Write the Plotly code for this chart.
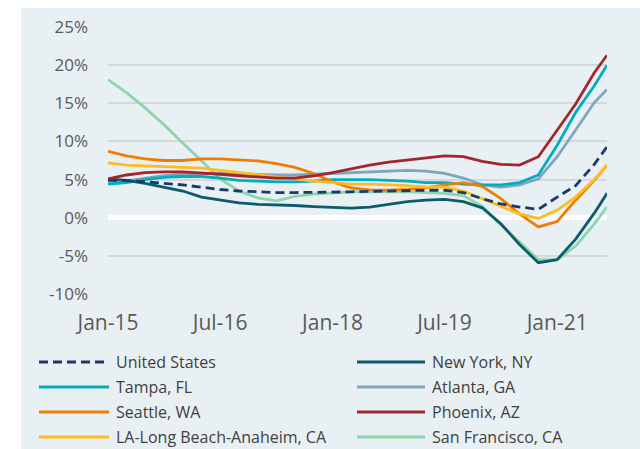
import plotly.graph_objects as go

# ---------------- data ----------------
dates = ["2015-01-01", "2015-04-01", "2015-07-01", "2015-10-01",
         "2016-01-01", "2016-04-01", "2016-07-01", "2016-10-01",
         "2017-01-01", "2017-04-01", "2017-07-01", "2017-10-01",
         "2018-01-01", "2018-04-01", "2018-07-01", "2018-10-01",
         "2019-01-01", "2019-04-01", "2019-07-01", "2019-10-01",
         "2020-01-01", "2020-04-01", "2020-07-01", "2020-10-01",
         "2021-01-01", "2021-04-01", "2021-07-01", "2021-09-01"]

united_states = [4.9, 4.9, 4.7, 4.5, 4.3, 4.0, 3.7, 3.5, 3.35, 3.3, 3.3, 3.3, 3.35, 3.4,
                 3.45, 3.55, 3.6, 3.6, 3.6, 3.3, 2.5, 1.8, 1.4, 1.1, 2.7, 4.2, 7.0, 9.3]
new_york = [5.1, 4.9, 4.5, 4.0, 3.5, 2.7, 2.3, 1.95, 1.75, 1.7, 1.6, 1.45, 1.35, 1.25,
            1.4, 1.8, 2.1, 2.3, 2.4, 2.1, 1.3, -0.8, -3.5, -5.9, -5.5, -2.8, 0.6, 3.2]
tampa = [4.4, 4.6, 5.0, 5.3, 5.4, 5.4, 5.2, 4.9, 4.8, 4.7, 4.7, 4.8, 5.0, 5.0,
         5.0, 4.9, 4.8, 4.6, 4.6, 4.4, 4.3, 4.3, 4.6, 5.6, 9.5, 13.8, 17.3, 20.0]
atlanta = [4.5, 4.8, 5.2, 5.5, 5.7, 5.8, 5.8, 5.7, 5.6, 5.6, 5.6, 5.7, 5.8, 5.9,
           6.0, 6.1, 6.2, 6.1, 5.8, 5.2, 4.3, 4.0, 4.3, 5.1, 8.0, 11.5, 15.1, 16.8]
seattle = [8.7, 8.1, 7.7, 7.5, 7.5, 7.7, 7.7, 7.6, 7.45, 7.1, 6.6, 5.8, 4.7, 3.9,
           3.65, 3.6, 3.7, 3.9, 4.3, 4.6, 4.1, 2.5, 0.5, -1.2, -0.5, 2.3, 4.9, 6.9]
phoenix = [5.1, 5.6, 5.9, 6.0, 6.0, 5.9, 5.7, 5.5, 5.3, 5.2, 5.2, 5.5, 5.9, 6.4,
           6.9, 7.3, 7.6, 7.9, 8.1, 8.0, 7.4, 7.0, 6.9, 8.0, 11.5, 14.9, 19.0, 21.3]
la_long_beach = [7.2, 6.9, 6.8, 6.7, 6.6, 6.5, 6.2, 5.9, 5.6, 5.4, 5.1, 4.8, 4.6, 4.4,
                 4.4, 4.3, 4.2, 4.0, 4.0, 3.5, 2.5, 1.5, 0.5, -0.1, 1.0, 2.7, 5.0, 6.9]
san_francisco = [18.1, 16.4, 14.4, 12.2, 9.8, 7.4, 5.1, 3.5, 2.6, 2.2, 2.8, 3.1, 3.3, 3.4,
                 3.4, 3.4, 3.4, 3.3, 3.2, 2.9, 1.5, -0.9, -3.2, -5.5, -5.5, -3.7, -0.8, 1.4]

series_names = ["United States", "New York, NY", "Tampa, FL", "Atlanta, GA",
                "Seattle, WA", "Phoenix, AZ", "LA-Long Beach-Anaheim, CA", "San Francisco, CA"]
series_values = [united_states, new_york, tampa, atlanta,
                 seattle, phoenix, la_long_beach, san_francisco]

x_tick_dates = ["2015-01-01", "2016-07-01", "2018-01-01", "2019-07-01", "2021-01-01"]
x_tick_labels = ["Jan-15", "Jul-16", "Jan-18", "Jul-19", "Jan-21"]
y_tick_values = [-10, -5, 0, 5, 10, 15, 20, 25]
y_tick_labels = ["-10%", "-5%", "0%", "5%", "10%", "15%", "20%", "25%"]

# ---------------- styles ----------------
colors = ["#1B3A6B", "#0D5B6C", "#00AEBF", "#7FA6BE",
          "#F07D00", "#A3262F", "#FFBA24", "#8ED5AC"]
dashes = ["9px,5px", "solid", "solid", "solid", "solid", "solid", "solid", "solid"]
LW = 2.8
PANEL = "#E8F0F3"
TXT = "#595959"

W, H = 640, 449
L, R, T, B = 108, 607, 27, 294   # plot area in pixels

def px_x(x):
    return (x - L) / (R - L)

def px_y(y):
    return (B - y) / (B - T)

fig = go.Figure()
# draw order: put the dashed US line on top
order = [7, 3, 2, 4, 6, 1, 5, 0]
for i in order:
    fig.add_trace(go.Scatter(
        x=dates, y=series_values[i], name=series_names[i], mode="lines",
        line=dict(color=colors[i], width=LW, dash=dashes[i]),
        showlegend=False,
        hovertemplate="%{x|%b-%y}: %{y:.1f}%<extra>" + series_names[i] + "</extra>",
    ))

shapes = [dict(type="rect", xref="paper", yref="paper",
               x0=px_x(21), x1=px_x(W + 5), y0=px_y(H + 5), y1=px_y(8),
               fillcolor=PANEL, line=dict(width=0), layer="below")]

annotations = []
legend_rows = [362, 387, 412, 437]
legend_cols = [(39, 109, 114), (357, 425, 430)]
for i, name in enumerate(series_names):
    row, col = divmod(i, 2)
    x0, x1, xt = legend_cols[col]
    y = legend_rows[row]
    shapes.append(dict(type="line", xref="paper", yref="paper",
                       x0=px_x(x0), x1=px_x(x1), y0=px_y(y), y1=px_y(y),
                       line=dict(color=colors[i], width=LW + 0.4, dash=dashes[i])))
    annotations.append(dict(xref="paper", yref="paper", x=px_x(xt), y=px_y(y),
                            xanchor="left", yanchor="middle", showarrow=False,
                            text=name, font=dict(family="Open Sans", size=16, color="#404040")))

fig.update_layout(
    width=W, height=H,
    margin=dict(l=L, r=W - R, t=T, b=H - B, pad=0),
    paper_bgcolor="white",
    plot_bgcolor=PANEL,
    showlegend=False,
    shapes=shapes,
    annotations=annotations,
    font=dict(family="Open Sans", color=TXT),
    xaxis=dict(type="date", range=["2015-01-01", "2021-09-01"],
               tickvals=x_tick_dates, ticktext=x_tick_labels,
               showgrid=False, zeroline=False, showline=False, ticks="",
               tickfont=dict(family="Open Sans", size=21, color=TXT),
               ticklabelstandoff=14),
    yaxis=dict(range=[-10, 25], tickvals=y_tick_values, ticktext=y_tick_labels,
               showgrid=True, gridcolor="#D5D8DA", gridwidth=1.6,
               zeroline=True, zerolinecolor="white", zerolinewidth=4.5,
               showline=False, ticks="",
               tickfont=dict(family="Open Sans", size=17, color=TXT),
               ticklabelstandoff=19),
)

fig.write_html("out.html",
               config={"displayModeBar": False},
               post_script="document.body.style.margin='0';document.body.style.overflow='hidden';")
